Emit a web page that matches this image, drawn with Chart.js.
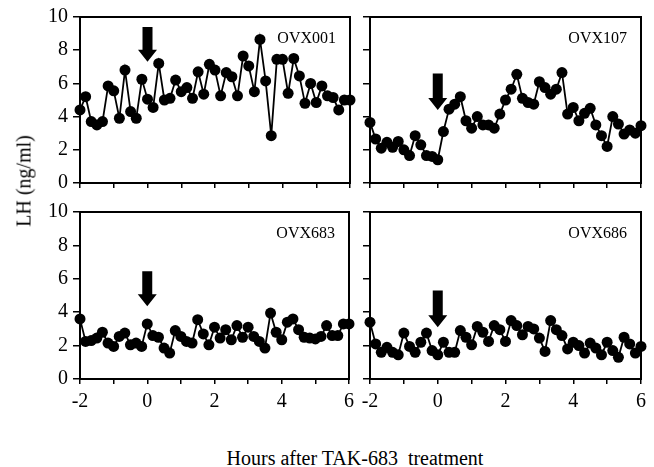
<!DOCTYPE html>
<html>
<head>
<meta charset="utf-8">
<script src="https://cdn.jsdelivr.net/npm/chart.js@4.4.1/dist/chart.umd.min.js"></script>
<style>
  html, body { margin: 0; padding: 0; background: #fff; }
  #wrap { position: relative; width: 654px; height: 467px; overflow: hidden; background: #fff; }
  canvas { position: absolute; }
  .lbl { position: absolute; font-family: "Liberation Serif", "DejaVu Serif", serif; color: #000; white-space: nowrap; }
  #ytitle { font-size: 20px; left: 24px; top: 181px; transform: translate(-50%, -50%) rotate(-90deg); }
  #xtitle { font-size: 20px; left: 355px; top: 458px; transform: translate(-50%, -50%); }
</style>
</head>
<body>
<div id="wrap">
  <canvas id="c1" style="left:0px;top:0px" width="360" height="200"></canvas>
  <canvas id="c2" style="left:340px;top:0px" width="314" height="200"></canvas>
  <canvas id="c3" style="left:0px;top:195px" width="360" height="250"></canvas>
  <canvas id="c4" style="left:340px;top:195px" width="314" height="250"></canvas>
  <div id="ytitle" class="lbl">LH (ng/ml)</div>
  <div id="xtitle" class="lbl">Hours after TAK-683&nbsp; treatment</div>
</div>
<script>
// Sampling times (minutes after treatment)
const minutes = [-120,-110,-100,-90,-80,-70,-60,-50,-40,-30,-20,-10,0,10,20,30,40,50,60,70,80,90,100,110,120,130,140,150,160,170,180,190,200,210,220,230,240,250,260,270,280,290,300,310,320,330,340,350,360];

// LH (ng/ml) per animal
const ovx001 = [4.4,5.2,3.7,3.5,3.7,5.85,5.55,3.9,6.8,4.3,3.9,6.25,5.05,4.55,7.2,5.0,5.1,6.2,5.5,5.75,5.1,6.7,5.35,7.15,6.8,5.25,6.65,6.4,5.25,7.65,7.05,5.5,8.65,6.15,2.85,7.45,7.45,5.4,7.5,6.45,4.8,6.0,4.85,5.85,5.25,5.15,4.4,5.0,5.0];
const ovx107 = [3.65,2.65,2.1,2.45,2.15,2.5,2.0,1.65,2.85,2.3,1.65,1.6,1.4,3.1,4.45,4.75,5.2,3.75,3.3,4.0,3.5,3.5,3.3,4.15,5.0,5.65,6.55,5.1,4.85,4.75,6.1,5.75,5.35,5.65,6.65,4.15,4.55,3.75,4.2,4.5,3.5,2.85,2.2,4.0,3.55,2.95,3.2,3.0,3.45];
const ovx683 = [3.6,2.25,2.3,2.45,2.8,2.15,1.95,2.55,2.75,2.05,2.15,1.95,3.3,2.6,2.5,1.85,1.55,2.9,2.55,2.25,2.15,3.55,2.7,2.05,3.1,2.45,2.95,2.35,3.2,2.5,3.1,2.55,2.25,1.85,3.95,2.8,2.35,3.4,3.6,2.95,2.5,2.45,2.4,2.55,3.2,2.6,2.6,3.3,3.3];
const ovx686 = [3.4,2.1,1.6,1.9,1.6,1.45,2.75,1.95,1.6,2.2,2.75,1.7,1.45,2.2,1.6,1.6,2.9,2.5,2.05,3.15,2.8,2.25,3.2,2.95,2.25,3.5,3.2,2.65,3.15,3.0,2.45,1.65,3.5,2.95,2.6,1.8,2.2,2.0,1.55,2.15,1.85,1.45,2.2,1.7,1.3,2.5,2.1,1.55,1.95];

const panelNames = ["OVX001", "OVX107", "OVX683", "OVX686"];
const panelSeries = [ovx001, ovx107, ovx683, ovx686];

// Treatment arrow (at hour 0): top of shaft and tip, in LH units
const arrowTop = [9.4, 6.6, 6.45, 5.3];
const arrowTip = [7.3, 4.4, 4.35, 3.1];

const xTickLabels = [-2, 0, 2, 4, 6];
const yTickLabels = [0, 2, 4, 6, 8, 10];

const FONT = '"Liberation Serif", "DejaVu Serif", serif';

const panelPlugin = {
  id: 'panelDeco',
  afterDatasetsDraw(chart, args, opts) {
    const ctx = chart.ctx;
    const a = chart.chartArea;
    const xs = chart.scales.x, ys = chart.scales.y;
    ctx.save();
    ctx.strokeStyle = '#000';
    ctx.lineWidth = 2;
    ctx.strokeRect(a.left, a.top, a.right - a.left, a.bottom - a.top);
    ctx.fillStyle = '#000';
    ctx.font = '16px ' + FONT;
    ctx.textAlign = 'right';
    ctx.textBaseline = 'middle';
    ctx.fillText(opts.name, a.right - 14, a.top + 22);
    const cx = xs.getPixelForValue(0);
    const yTop = ys.getPixelForValue(opts.top);
    const yTip = ys.getPixelForValue(opts.tip);
    const headH = 12, shaftW = 10, headW = 19;
    ctx.beginPath();
    ctx.moveTo(cx - shaftW / 2, yTop);
    ctx.lineTo(cx + shaftW / 2, yTop);
    ctx.lineTo(cx + shaftW / 2, yTip - headH);
    ctx.lineTo(cx + headW / 2, yTip - headH);
    ctx.lineTo(cx, yTip);
    ctx.lineTo(cx - headW / 2, yTip - headH);
    ctx.lineTo(cx - shaftW / 2, yTip - headH);
    ctx.closePath();
    ctx.fill();
    ctx.restore();
  }
};

function makePanel(id, idx, cfg) {
  const data = panelSeries[idx].map((v, i) => ({ x: minutes[i] / 60, y: v }));
  new Chart(document.getElementById(id), {
    type: 'line',
    data: {
      datasets: [{
        data: data,
        borderColor: '#000',
        backgroundColor: '#000',
        borderWidth: 1.8,
        pointRadius: 5.5,
        pointHoverRadius: 5.5,
        pointBackgroundColor: '#000',
        pointBorderColor: '#000',
        pointBorderWidth: 0,
        tension: 0,
        clip: false
      }]
    },
    options: {
      responsive: false,
      animation: false,
      events: [],
      layout: { padding: { top: cfg.padTop, right: cfg.padRight, left: 0, bottom: 0 } },
      plugins: {
        legend: { display: false },
        tooltip: { enabled: false },
        panelDeco: { name: panelNames[idx], top: arrowTop[idx], tip: arrowTip[idx] }
      },
      scales: {
        x: {
          type: 'linear',
          min: -2, max: 6,
          border: { display: false },
          grid: { display: true, drawOnChartArea: false, drawTicks: true, tickLength: 5, color: '#000', lineWidth: 1.5 },
          ticks: {
            stepSize: 1,
            autoSkip: false,
            maxRotation: 0,
            padding: 6,
            color: '#000',
            font: { family: FONT, size: 20 },
            callback: (v) => (cfg.xLabels && xTickLabels.includes(v)) ? String(v) : ''
          },
          afterFit: (s) => { s.height = cfg.xHeight; }
        },
        y: {
          type: 'linear',
          min: 0, max: 10,
          border: { display: false },
          grid: { display: true, drawOnChartArea: false, drawTicks: true, tickLength: 7, color: '#000', lineWidth: 1.5 },
          ticks: {
            stepSize: 2,
            padding: 5,
            color: '#000',
            font: { family: FONT, size: 20 },
            callback: (v) => (cfg.yLabels && yTickLabels.includes(v)) ? String(v) : ''
          },
          afterFit: (s) => { s.width = cfg.yWidth; }
        }
      }
    },
    plugins: [panelPlugin]
  });
}

makePanel('c1', 0, { padTop: 17, padRight: 10, xHeight: 12, yWidth: 80, xLabels: false, yLabels: true });
makePanel('c2', 1, { padTop: 17, padRight: 13, xHeight: 12, yWidth: 30, xLabels: false, yLabels: false });
makePanel('c3', 2, { padTop: 14, padRight: 10, xHeight: 66, yWidth: 80, xLabels: true, yLabels: true });
makePanel('c4', 3, { padTop: 14, padRight: 13, xHeight: 66, yWidth: 30, xLabels: true, yLabels: false });
</script>
</body>
</html>
